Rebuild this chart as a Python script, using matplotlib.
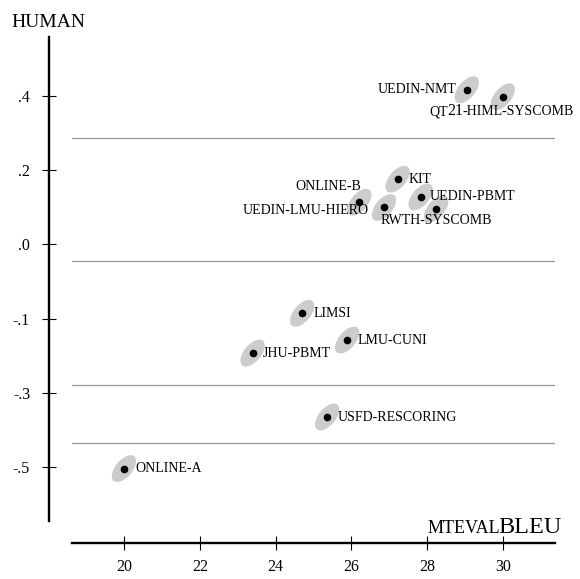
import numpy as np
import matplotlib
matplotlib.use("Agg")
import matplotlib.pyplot as plt
from matplotlib.collections import EllipseCollection
from matplotlib.font_manager import FontProperties, findfont, get_font

plt.rcParams["font.family"] = "Liberation Serif"

# systems, BLEU and human score (y in the plot's evenly spaced axis units)
systems = ["UEDIN-NMT", "QT21-HIML-SYSCOMB", "KIT", "UEDIN-PBMT", "ONLINE-B",
           "UEDIN-LMU-HIERO", "RWTH-SYSCOMB", "LIMSI", "LMU-CUNI", "JHU-PBMT",
           "USFD-RESCORING", "ONLINE-A"]
bleu = [29.05, 30.0, 27.22, 27.83, 26.21, 26.86, 28.24, 24.70, 25.89, 23.39, 25.36, 19.99]
human = [0.416, 0.397, 0.175, 0.127, 0.113, 0.099, 0.095, -0.186, -0.258, -0.293, -0.465, -0.604]

cluster_lines = [0.287, -0.046, -0.380, -0.534]
xticks = [20, 22, 24, 26, 28, 30]
yticks = [0.4, 0.2, 0.0, -0.2, -0.4, -0.6]
ytick_labels = [".4", ".2", ".0", "-.1", "-.3", "-.5"]

# label placement: offset in pixels from the dot, horizontal alignment
label_pos = {
    "UEDIN-NMT": (-10.7, -3.3, "right"),
    "KIT": (10.6, -3.4, "left"),
    "UEDIN-PBMT": (9.3, -3.0, "left"),
    "ONLINE-B": (1.7, 12.3, "right"),
    "UEDIN-LMU-HIERO": (-15, -7, "right"),
    "RWTH-SYSCOMB": (0, -15, "center"),
    "LIMSI": (11, -4, "left"),
    "LMU-CUNI": (10.4, -3.7, "left"),
    "JHU-PBMT": (10.6, -3.7, "left"),
    "USFD-RESCORING": (11, -3.7, "left"),
    "ONLINE-A": (11, -3.7, "left"),
}

W, H = 580, 579
DPI = 100
fig = plt.figure(figsize=(W / DPI, H / DPI), dpi=DPI)
ax = fig.add_axes([71.7 / W, 1 - 521 / H, (555 - 71.7) / W, (521 - 37.3) / H])
ax.set_xlim(18.61, 31.38)
ax.set_ylim(-0.745, 0.557)

for s in ["top", "right"]:
    ax.spines[s].set_visible(False)
ax.spines["left"].set_position(("outward", 16.3))
ax.spines["bottom"].set_position(("outward", 16.1))
ax.spines["left"].set_linewidth(1.7)
ax.spines["bottom"].set_linewidth(1.7)

ax.set_xticks(xticks)
ax.set_yticks(yticks)
ax.set_yticklabels(ytick_labels)
ax.tick_params(direction="inout", length=10.5, width=0.8, labelsize=11.5)
ax.tick_params(axis="y", pad=8.4)
ax.tick_params(axis="x", pad=6)

for yl in cluster_lines:
    ax.axhline(yl, color="#999999", lw=0.9, zorder=1)

ec = EllipseCollection([32] * len(bleu), [17] * len(bleu), [50] * len(bleu),
                       units="dots", offsets=np.column_stack([bleu, human]),
                       offset_transform=ax.transData,
                       facecolor="#cccccc", edgecolor="none", zorder=2)
ax.add_collection(ec)
ax.plot(bleu, human, "o", color="black", ms=4.5, zorder=3)

lab_size = 10
for name, x, y in zip(systems, bleu, human):
    if name in label_pos:
        dx, dy, ha = label_pos[name]
        ax.annotate(name, (x, y), xytext=(dx, dy), textcoords="offset pixels",
                    ha=ha, va="baseline", size=lab_size, zorder=4)


def advance(s, size):
    # typographic advance width of a string in pixels
    font = get_font(findfont(FontProperties(family="Liberation Serif")))
    font.set_size(size, DPI)
    return sum(font.load_char(ord(c)).linearHoriAdvance for c in s) / 65536


def run_text(parts, xy, xycoords, dx, dy, center=False):
    # small caps imitation: pieces with different sizes on one baseline
    # each part: (text, size, pixel tweak after it)
    widths = [advance(s, sz) + k for s, sz, k in parts]
    start = dx - (sum(widths) / 2 if center else 0)
    for (s, sz, k), w in zip(parts, widths):
        ax.annotate(s, xy, xycoords=xycoords, xytext=(start, dy),
                    textcoords="offset pixels", size=sz, ha="left",
                    va="baseline", zorder=4, annotation_clip=False)
        start += w


qi = systems.index("QT21-HIML-SYSCOMB")
run_text([("QT", lab_size, -0.8), ("21", 11.3, 0), ("-HIML-SYSCOMB", lab_size, 0)],
         (bleu[qi], human[qi]), "data", -1, -18.3, center=True)

run_text([("MTEVAL", 13, -4.5), ("BLEU", 17.5, 0)], (427.7, H - 533.3),
         "figure pixels", 0, 0)

fig.text(11 / W, 1 - 26.7 / H, "HUMAN", ha="left", va="baseline", size=14)

fig.savefig("out.png", dpi=DPI)
